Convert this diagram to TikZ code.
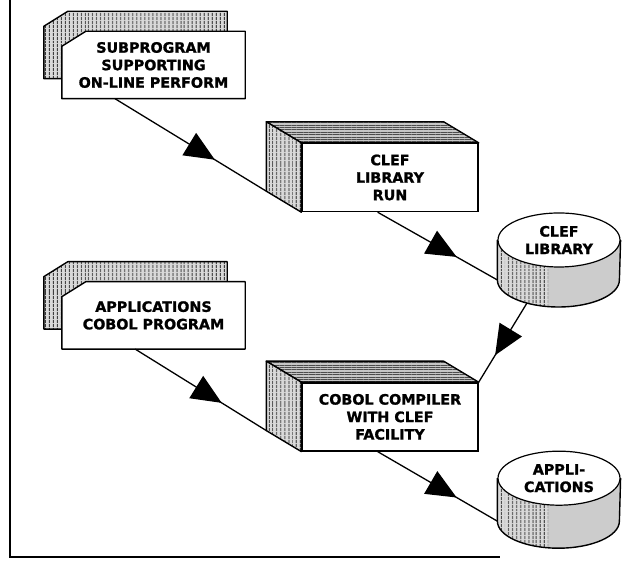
\documentclass[tikz,border=0pt]{standalone}
\usepackage{fontspec}
\setmainfont{DejaVu Sans}[BoldFeatures={FakeBold=1.3}]
\usetikzlibrary{arrows.meta, positioning, calc, shapes.geometric, patterns.meta, decorations.markings, backgrounds}

\tikzstyle{card} = [rectangle, minimum width=183pt, minimum height=67pt, inner sep=0pt,
    align=center, font=\bfseries\fontsize{14.3}{17.5}\selectfont]
\tikzstyle{box} = [rectangle, minimum width=176pt, minimum height=68pt, inner sep=0pt,
    align=center, draw=black, fill=white, line width=1.4pt, font=\bfseries\fontsize{14.3}{17.5}\selectfont]
\tikzstyle{disk} = [ellipse, minimum width=122pt, minimum height=54pt, inner sep=0pt,
    align=center, draw=black, fill=white, line width=1.2pt, font=\bfseries\fontsize{14.3}{17.5}\selectfont]
\tikzstyle{edge} = [draw=black, line width=1.4pt, line join=round]
\tikzstyle{vhatch} = [edge, preaction={fill=gray!30}, pattern={Lines[angle=90, distance=4pt, line width=1pt]}, pattern color=black!80]
\tikzstyle{hhatch} = [edge, preaction={fill=gray!45}, pattern={Lines[angle=0, distance=2.4pt, line width=0.7pt]}, pattern color=black!70]
\tikzstyle{dotfill} = [fill=gray!40]
\tikzstyle{arrow} = [line width=1.3pt, postaction={decorate},
    decoration={markings, mark=at position 0.66 with {\arrow{Triangle[length=30pt, width=26pt]}}}]
% card with cut corner, #2 = offset
\newcommand{\cardshape}[2]{($(#1.south west)+#2$) -- ($(#1.north west)+#2+(0,-15)$)
    -- ($(#1.north west)+#2+(24,0)$) -- ($(#1.north east)+#2$) -- ($(#1.south east)+#2$) -- cycle}
\newcommand{\boxsides}[1]{%
  \path[hhatch] (#1.north west) -- ++(-35,21) -- ($(#1.north east)+(-35,21)$) -- (#1.north east) -- cycle;
  \path[vhatch] (#1.north west) -- ++(-35,21) -- ($(#1.south west)+(-35,21)$) -- (#1.south west) -- cycle;}
\newcommand{\diskbody}[2]{%
  \path[dotfill] (#1.west) -- ++(0,-#2) arc[start angle=180, end angle=360, x radius=61pt, y radius=27pt] -- (#1.east) -- cycle;
  \begin{scope}
    \clip ($(#1.west)+(-2,-80)$) rectangle ($(#1.center)+(-11,0)$);
    \path[vhatch, draw=none] (#1.west) -- ++(0,-#2) arc[start angle=180, end angle=360, x radius=61pt, y radius=27pt] -- (#1.east) -- cycle;
  \end{scope}
  \draw[edge] (#1.west) -- ++(0,-#2) arc[start angle=180, end angle=360, x radius=61pt, y radius=27pt] -- (#1.east);}

\begin{document}
\begin{tikzpicture}[x=1pt, y=1pt]
\useasboundingbox (0,0) rectangle (641,569);
\node (subprog) [card] at (153.5,504) {SUBPROGRAM\\SUPPORTING\\ON-LINE PERFORM};
\node (appprog) [card, below=183pt of subprog] {APPLICATIONS\\COBOL PROGRAM};
\node (clefrun) [box] at (390,391.5) {CLEF\\LIBRARY\\RUN};
\node (compiler) [box, below=170pt of clefrun] {COBOL COMPILER\\WITH CLEF\\FACILITY};
\node (clefdisk) [disk] at (559,329) {CLEF\\LIBRARY};
\node (appdisk) [disk, below=183pt of clefdisk] {APPLI-\\CATIONS};

\begin{scope}[on background layer]
\path[vhatch] \cardshape{subprog}{(-18,20)};
\path[edge, fill=white] \cardshape{subprog}{(0,0)};
\path[vhatch] \cardshape{appprog}{(-18,20)};
\path[edge, fill=white] \cardshape{appprog}{(0,0)};
\boxsides{clefrun}
\boxsides{compiler}
\diskbody{clefdisk}{40}
\diskbody{appdisk}{43}
\end{scope}

\coordinate (runback) at ($(clefrun.south west)+(-35,21)$);
\coordinate (compback) at ($(compiler.south west)+(-35,21)$);
\coordinate (clefbase) at ($(clefdisk.west)+(0,-40)$);
\coordinate (appbase) at ($(appdisk.west)+(0,-43)$);
\coordinate (clefout) at ($(clefdisk.center)+(-32,-63)$);

\draw[arrow] ($(subprog.south west)!.29!(subprog.south east)$) -- (runback);
\draw[arrow] ($(clefrun.south west)!.43!(clefrun.south east)$) -- (clefbase);
\draw[arrow] (clefout) -- (compiler.north east);
\draw[arrow] ($(appprog.south west)!.4!(appprog.south east)$) -- (compback);
\draw[arrow] ($(compiler.south west)!.43!(compiler.south east)$) -- (appbase);
\draw[line width=1.2pt] (10,569) -- (10,12) -- (500,12);
\end{tikzpicture}
\end{document}
